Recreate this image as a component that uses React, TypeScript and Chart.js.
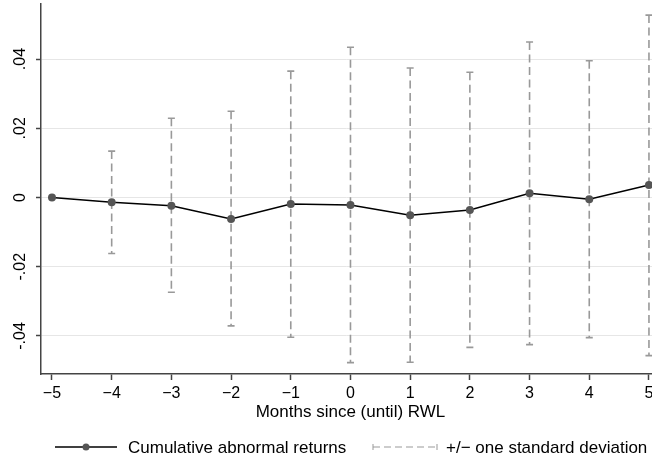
import React, { useEffect, useRef } from "react";
import { Chart, registerables } from "chart.js";

Chart.register(...registerables);

const months = [-5, -4, -3, -2, -1, 0, 1, 2, 3, 4, 5];
const car = [0, -0.0014, -0.0024, -0.0062, -0.0019, -0.0022, -0.0051, -0.0036, 0.0012, -0.0005, 0.0036];
const upper = [null, 0.0134, 0.0229, 0.0249, 0.0365, 0.0434, 0.0374, 0.0362, 0.0449, 0.0395, 0.0527];
const lower = [null, -0.0162, -0.0274, -0.0371, -0.0404, -0.0477, -0.0476, -0.0433, -0.0425, -0.0405, -0.0457];
const xTicks = [-5, -4, -3, -2, -1, 0, 1, 2, 3, 4, 5];
const xTickLabels = ["\u22125", "\u22124", "\u22123", "\u22122", "\u22121", "0", "1", "2", "3", "4", "5"];
const yTicks = [-0.04, -0.02, 0, 0.02, 0.04];
const yTickLabels = ["-.04", "-.02", "0", ".02", ".04"];
const xTitle = "Months since (until) RWL";
const legendLabels = ["Cumulative abnormal returns", "+/\u2212 one standard deviation"];

const FONT = '"Liberation Sans", Arial, Helvetica, sans-serif';
const AXIS = "#444444";
const BAR = "#999999";
const MARK = "#555555";

const errorBars = {
  id: "errorBars",
  beforeDatasetsDraw(chart: any) {
    const { ctx } = chart;
    const xs = chart.scales.x;
    const ys = chart.scales.y;
    ctx.save();
    ctx.strokeStyle = BAR;
    ctx.lineWidth = 1.6;
    months.forEach((m, i) => {
      const hi = upper[i];
      const lo = lower[i];
      if (hi == null || lo == null) return;
      const x = xs.getPixelForValue(m);
      const y1 = ys.getPixelForValue(hi);
      const y2 = ys.getPixelForValue(lo);
      ctx.setLineDash([8, 4.5]);
      ctx.beginPath();
      ctx.moveTo(x, y1);
      ctx.lineTo(x, y2);
      ctx.stroke();
      ctx.setLineDash([]);
      ctx.beginPath();
      ctx.moveTo(x - 3.5, y1);
      ctx.lineTo(x + 3.5, y1);
      ctx.moveTo(x - 3.5, y2);
      ctx.lineTo(x + 3.5, y2);
      ctx.stroke();
    });
    ctx.restore();
  },
};

const texts = {
  id: "texts",
  afterDraw(chart: any) {
    const { ctx } = chart;
    const xs = chart.scales.x;
    const ys = chart.scales.y;
    ctx.save();
    ctx.fillStyle = "#000";
    ctx.font = `16px ${FONT}`;
    ctx.textAlign = "center";
    ctx.textBaseline = "alphabetic";
    xTicks.forEach((v, i) => {
      ctx.fillText(xTickLabels[i], xs.getPixelForValue(v), 398);
    });
    yTicks.forEach((v, i) => {
      ctx.save();
      ctx.translate(25, ys.getPixelForValue(v));
      ctx.rotate(-Math.PI / 2);
      ctx.fillText(yTickLabels[i], 0, 0);
      ctx.restore();
    });
    ctx.font = `17px ${FONT}`;
    ctx.fillText(xTitle, xs.getPixelForValue(0), 417);
    const ly = 447;
    ctx.strokeStyle = "#000";
    ctx.lineWidth = 1.5;
    ctx.beginPath();
    ctx.moveTo(55, ly);
    ctx.lineTo(117, ly);
    ctx.stroke();
    ctx.fillStyle = MARK;
    ctx.beginPath();
    ctx.arc(86, ly, 3.5, 0, Math.PI * 2);
    ctx.fill();
    ctx.fillStyle = "#000";
    ctx.textAlign = "left";
    ctx.fillText(legendLabels[0], 128, 453);
    ctx.strokeStyle = BAR;
    ctx.lineWidth = 1;
    ctx.setLineDash([7, 4]);
    ctx.beginPath();
    ctx.moveTo(373, ly);
    ctx.lineTo(437, ly);
    ctx.stroke();
    ctx.setLineDash([]);
    ctx.beginPath();
    ctx.moveTo(373, ly - 3);
    ctx.lineTo(373, ly + 3);
    ctx.moveTo(437, ly - 3);
    ctx.lineTo(437, ly + 3);
    ctx.stroke();
    ctx.fillText(legendLabels[1], 446, 453);
    ctx.restore();
  },
};

export default function App() {
  const ref = useRef<HTMLCanvasElement>(null);
  useEffect(() => {
    if (!ref.current) return;
    const chart = new Chart(ref.current, {
      type: "line",
      data: {
        datasets: [
          {
            label: legendLabels[0],
            data: months.map((m, i) => ({ x: m, y: car[i] })),
            borderColor: "#000",
            borderWidth: 1.5,
            pointRadius: 4,
            pointBackgroundColor: MARK,
            pointBorderWidth: 0,
            tension: 0,
          },
        ],
      },
      options: {
        responsive: false,
        animation: false,
        layout: { autoPadding: false, padding: { top: 4, right: 0, left: 0, bottom: 0 } },
        plugins: { legend: { display: false }, tooltip: { enabled: false } },
        scales: {
          x: {
            type: "linear",
            min: -5.184,
            max: 5.051,
            afterBuildTicks: (s: any) => {
              s.ticks = xTicks.map((v) => ({ value: v }));
            },
            afterFit: (s: any) => {
              s.height = 87;
              s.paddingLeft = 0;
              s.paddingRight = 0;
            },
            ticks: { display: false },
            grid: {
              drawOnChartArea: false,
              drawTicks: true,
              tickLength: 6,
              tickColor: AXIS,
              tickWidth: 1.5,
            },
            border: { display: true, color: AXIS, width: 1.5 },
          },
          y: {
            type: "linear",
            min: -0.051,
            max: 0.0559,
            afterBuildTicks: (s: any) => {
              s.ticks = yTicks.map((v) => ({ value: v }));
            },
            afterFit: (s: any) => {
              s.width = 41;
            },
            ticks: { display: false },
            grid: {
              color: "#e6e6e6",
              lineWidth: 1,
              drawTicks: true,
              tickLength: 5,
              tickColor: AXIS,
              tickWidth: 1.5,
            },
            border: { display: true, color: AXIS, width: 1.5 },
          },
        },
      },
      plugins: [errorBars, texts],
    } as any);
    return () => chart.destroy();
  }, []);
  return (
    <div style={{ position: "absolute", left: 0, top: 0, width: 652, height: 461, background: "#fff" }}>
      <canvas ref={ref} width={652} height={461} style={{ display: "block" }} />
    </div>
  );
}
